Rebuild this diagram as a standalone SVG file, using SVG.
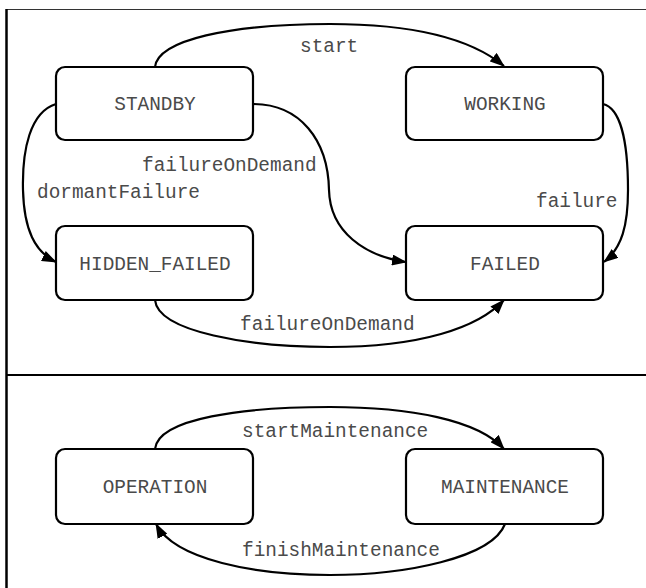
<svg xmlns="http://www.w3.org/2000/svg" width="646" height="588" viewBox="0 0 646 588">
<style>
.node rect{fill:#fff;stroke:#000;stroke-width:2.2}
text{font-family:"Liberation Mono","Courier New",monospace;font-size:19.4px;fill:#4a4a4a}
.node text{text-anchor:middle}
.edge{fill:none;stroke:#000;stroke-width:2.2}
.arrowed{marker-end:url(#ah)}
</style>
<defs>
<marker id="ah" viewBox="0 0 15 11" refX="14" refY="5.5" markerWidth="15" markerHeight="11" markerUnits="userSpaceOnUse" orient="auto">
<path d="M0,0 L15,5.5 L0,11 Z" fill="#000"/>
</marker>
</defs>
<rect width="646" height="588" fill="#fff"/>
<g id="frame">
<line x1="6" y1="9.5" x2="646" y2="9.5" stroke="#333" stroke-width="1.2"/>
<line x1="6.5" y1="9" x2="6.5" y2="588" stroke="#000" stroke-width="2.5"/>
<line x1="6" y1="375" x2="646" y2="375" stroke="#000" stroke-width="2.2"/>
</g>
<g id="connectors">
<path class="edge arrowed" d="M155,67 C158,40 230,24 330,24 C410,24 470,38 504,66"/>
<path class="edge arrowed" d="M56,104 C30,112 22,150 23,190 C24,230 35,252 56,262"/>
<path class="edge arrowed" d="M253,104 C300,104 328,140 329,190 C330,232 365,256 406,262"/>
<path class="edge arrowed" d="M603,104 C620,108 628,140 628,190 C628,225 622,248 604,262"/>
<path class="edge arrowed" d="M155,300 C158,332 250,347 330,347 C420,347 478,328 504,300"/>
<path class="edge arrowed" d="M155,449 C158,418 245,407 330,407 C410,407 478,420 504,449"/>
<path class="edge arrowed" d="M505,524 C492,558 405,575 330,575 C255,575 175,560 156,524"/>
<text x="300" y="52">start</text>
<text x="142" y="171">failureOnDemand</text>
<text x="37" y="198">dormantFailure</text>
<text x="536" y="207">failure</text>
<text x="240" y="330">failureOnDemand</text>
<text x="242" y="437">startMaintenance</text>
<text x="242" y="556">finishMaintenance</text>
</g>
<g id="STANDBY" class="node"><rect x="56" y="67" width="197" height="73" rx="9"/><text x="155" y="110">STANDBY</text></g>
<g id="WORKING" class="node"><rect x="406" y="67" width="197" height="73" rx="9"/><text x="505" y="110">WORKING</text></g>
<g id="HIDDEN_FAILED" class="node"><rect x="56" y="226" width="197" height="74" rx="9"/><text x="155" y="270">HIDDEN_FAILED</text></g>
<g id="FAILED" class="node"><rect x="406" y="226" width="197" height="74" rx="9"/><text x="505" y="270">FAILED</text></g>
<g id="OPERATION" class="node"><rect x="56" y="449" width="197" height="75" rx="9"/><text x="155" y="493">OPERATION</text></g>
<g id="MAINTENANCE" class="node"><rect x="406" y="449" width="197" height="75" rx="9"/><text x="505" y="493">MAINTENANCE</text></g>
</svg>
